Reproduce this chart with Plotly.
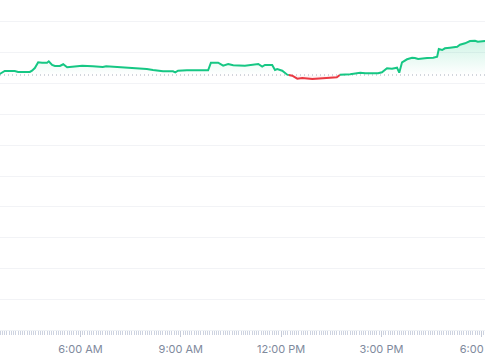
import pandas as pd
import numpy as np
import plotly.graph_objects as go

DAY = "2024-05-14"
times = ["03:35", "03:44", "04:02", "04:08", "04:29", "04:33", "04:38", "04:44", "04:51", "05:00",
         "05:03", "05:09", "05:14", "05:23", "05:29", "05:36", "05:45", "06:03", "06:22", "06:40",
         "06:46", "07:20", "07:47", "07:59", "08:10", "08:28", "08:46", "08:50", "08:55", "09:11",
         "09:49", "09:54", "10:07", "10:16", "10:25", "10:34", "10:55", "11:10", "11:19", "11:26",
         "11:31", "11:44", "11:49", "11:53", "12:02", "12:11", "12:20", "12:29", "12:38", "12:56",
         "13:10", "13:40", "13:46", "14:04", "14:22", "14:31", "14:36", "14:54", "15:01", "15:10",
         "15:19", "15:28", "15:32", "15:37", "15:46", "15:55", "16:00", "16:06", "16:22", "16:33",
         "16:40", "16:43", "16:49", "16:54", "17:03", "17:16", "17:21", "17:30", "17:39", "17:48",
         "17:53", "18:06"]
prices = [8.312, 8.409, 8.409, 8.377, 8.377, 8.419, 8.506, 8.692, 8.679, 8.679,
          8.724, 8.604, 8.571, 8.571, 8.627, 8.529, 8.549, 8.581, 8.562, 8.539,
          8.562, 8.529, 8.497, 8.474, 8.442, 8.399, 8.399, 8.367, 8.419, 8.432,
          8.432, 8.679, 8.679, 8.581, 8.636, 8.594, 8.581, 8.604, 8.636, 8.549,
          8.604, 8.604, 8.442, 8.474, 8.419, 8.289, 8.256, 8.159, 8.182, 8.149,
          8.172, 8.205, 8.289, 8.302, 8.354, 8.334, 8.334, 8.334, 8.367, 8.497,
          8.484, 8.516, 8.354, 8.692, 8.789, 8.841, 8.831, 8.799, 8.831, 8.841,
          8.873, 9.123, 9.091, 9.146, 9.166, 9.198, 9.263, 9.308, 9.383, 9.393,
          9.360, 9.383]
BASELINE = 8.279
X_RANGE = [f"{DAY} 03:35:30", f"{DAY} 18:05:54"]
Y_RANGE = [0, 10.714]

GREEN = "#16c784"
RED = "#ea3943"

t = pd.to_datetime([f"{DAY} {s}" for s in times])
v = np.array(prices, dtype=float)

# insert baseline crossing points so colours switch exactly at the baseline
xs, ys = [t[0]], [v[0]]
for i in range(1, len(v)):
    a, b = v[i - 1] - BASELINE, v[i] - BASELINE
    if a * b < 0:
        f = a / (a - b)
        xs.append(t[i - 1] + (t[i] - t[i - 1]) * f)
        ys.append(BASELINE)
    xs.append(t[i])
    ys.append(v[i])
ys = np.array(ys)

up_fill = np.maximum(ys, BASELINE)
down_fill = np.minimum(ys, BASELINE)
up_line = [y if y >= BASELINE - 1e-9 else None for y in ys]
down_line = [y if y <= BASELINE + 1e-9 else None for y in ys]
base = [BASELINE] * len(xs)

fig = go.Figure()
fig.add_trace(go.Scatter(x=xs, y=base, mode="lines", line=dict(width=0), hoverinfo="skip", showlegend=False))
fig.add_trace(go.Scatter(x=xs, y=up_fill, mode="lines", line=dict(width=0), fill="tonexty",
                         fillgradient=dict(type="vertical",
                                           colorscale=[[0, "rgba(22,199,132,0)"], [1, "rgba(22,199,132,0.2)"]]),
                         hoverinfo="skip", showlegend=False))
fig.add_trace(go.Scatter(x=xs, y=base, mode="lines", line=dict(width=0), hoverinfo="skip", showlegend=False))
fig.add_trace(go.Scatter(x=xs, y=down_fill, mode="lines", line=dict(width=0), fill="tonexty",
                         fillgradient=dict(type="vertical",
                                           colorscale=[[0, "rgba(234,57,67,0.15)"], [1, "rgba(234,57,67,0)"]]),
                         hoverinfo="skip", showlegend=False))
fig.add_trace(go.Scatter(x=xs, y=up_line, mode="lines", line=dict(color=GREEN, width=2),
                         connectgaps=False, hoverinfo="skip", showlegend=False))
fig.add_trace(go.Scatter(x=xs, y=down_line, mode="lines", line=dict(color=RED, width=2),
                         connectgaps=False, hoverinfo="skip", showlegend=False))

fig.add_hline(y=BASELINE, line=dict(color="#a6adbb", width=1, dash="1px,3px"), layer="below")

fig.update_layout(
    width=485, height=360,
    margin=dict(l=0, r=0, t=0, b=30, autoexpand=False),
    paper_bgcolor="white", plot_bgcolor="white",
    font=dict(family="Inter", size=11, color="#808a9d"),
    showlegend=False,
)
fig.update_xaxes(
    type="date", range=X_RANGE, automargin=False,
    showgrid=False, zeroline=False,
    showline=True, linecolor="#eff2f5", linewidth=1,
    tick0=f"{DAY} 00:00", dtick=3 * 3600 * 1000, tickformat="%-I:%M %p",
    ticks="outside", ticklen=6, tickcolor="#c5cbd8", tickwidth=1,
    ticklabeloverflow="allow", ticklabelstandoff=3,
    minor=dict(ticks="outside", dtick=4 * 60 * 1000, ticklen=4, tickcolor="#cdd3e0", tickwidth=1),
)
fig.update_yaxes(
    range=Y_RANGE, dtick=1, tick0=0, automargin=False,
    showgrid=True, gridcolor="#f2f3f6", gridwidth=1,
    zeroline=False, showticklabels=False,
)

fig.write_html("out.html")
